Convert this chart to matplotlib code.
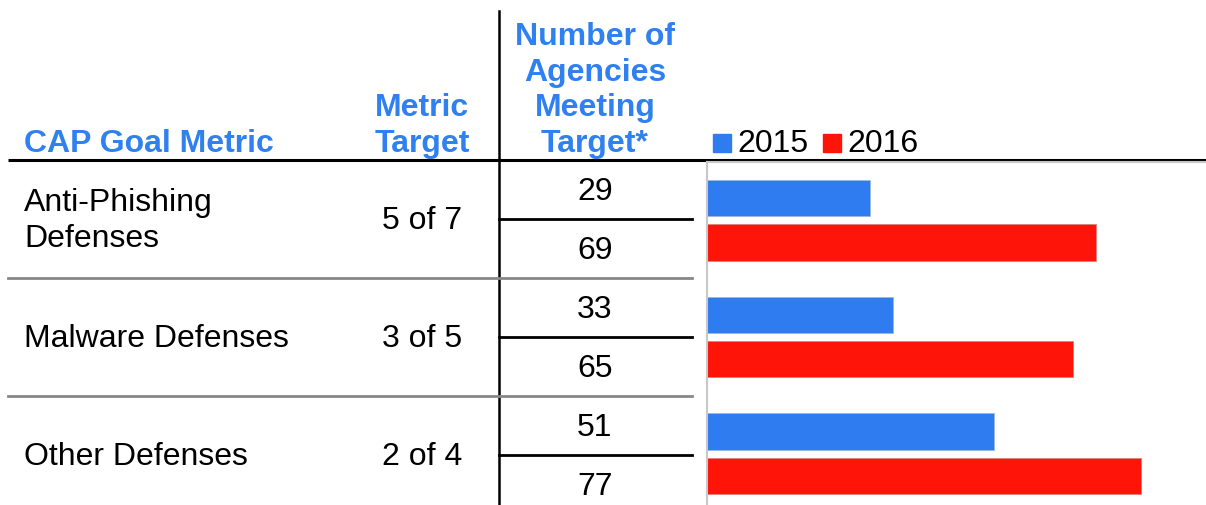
import matplotlib.pyplot as plt
import numpy as np

plt.rcParams['font.family'] = ['Liberation Sans', 'DejaVu Sans']

metrics = ['Anti-Phishing\nDefenses', 'Malware Defenses', 'Other Defenses']
targets = ['5 of 7', '3 of 5', '2 of 4']
years = ['2015', '2016']
agencies_2015 = [29, 33, 51]
agencies_2016 = [69, 65, 77]

blue = '#2E7CF0'
red = '#FF140A'
head = '#2F80F0'
W, H = 1206, 506
fs = 23

fig = plt.figure(figsize=(W / 100, H / 100), dpi=100)

# table part drawn in pixel coordinates
tab = fig.add_axes([0, 0, 1, 1])
tab.set_xlim(0, W)
tab.set_ylim(H, 0)
tab.axis('off')

tab.text(24, 152, 'CAP Goal Metric', color=head, fontsize=fs, fontweight='bold', va='baseline')
tab.text(422, 152, 'Metric\nTarget', color=head, fontsize=fs, fontweight='bold',
         va='baseline', ha='center', linespacing=1.25)
tab.text(595, 152, 'Number of\nAgencies\nMeeting\nTarget*', color=head, fontsize=fs,
         fontweight='bold', va='baseline', ha='center', linespacing=1.25)

tab.plot([8, W], [161, 161], color='black', lw=2.2, solid_capstyle='butt')
tab.plot([499, 499], [12, H], color='black', lw=1.8)

row_h = 118
row_top = 161
for i, (m, t) in enumerate(zip(metrics, targets)):
    mid = row_top + row_h * i + row_h / 2
    tab.text(24, mid + 1, m, fontsize=fs, va='center', ha='left', linespacing=1.25)
    tab.text(422, mid + 1, t, fontsize=fs, va='center', ha='center')
    tab.plot([499, 692], [mid, mid], color='black', lw=2)
    tab.text(595, mid - 28, str(agencies_2015[i]), fontsize=fs, va='center', ha='center')
    tab.text(595, mid + 31, str(agencies_2016[i]), fontsize=fs, va='center', ha='center')
    if i < len(metrics) - 1:
        bot = row_top + row_h * (i + 1)
        tab.plot([8, 692], [bot, bot], color='#888888', lw=2)

# bar chart
left = 707 / W
ax = fig.add_axes([left, 0, 1 - left, (H - 163) / H])
y = np.arange(len(metrics))
h = 0.31
ax.barh(y - 0.19, agencies_2015, height=h, color=blue, edgecolor='#9DB8E0', lw=0.6)
ax.barh(y + 0.19, agencies_2016, height=h, color=red, edgecolor='#D88080', lw=0.6)
ax.set_xlim(0, 88.6)
ax.set_ylim(2.44, -0.5)
ax.set_xticks([])
ax.set_yticks([])
for s in ['right', 'bottom']:
    ax.spines[s].set_visible(False)
for s in ['left', 'top']:
    ax.spines[s].set_color('#C8C8C8')
    ax.spines[s].set_linewidth(1.5)

# legend
for x0, c, lab in [(713, blue, years[0]), (823, red, years[1])]:
    tab.add_patch(plt.Rectangle((x0, 135), 18, 18, color=c))
    tab.text(x0 + 24, 152, lab, fontsize=fs, va='baseline')

fig.savefig('out.png', dpi=100)
